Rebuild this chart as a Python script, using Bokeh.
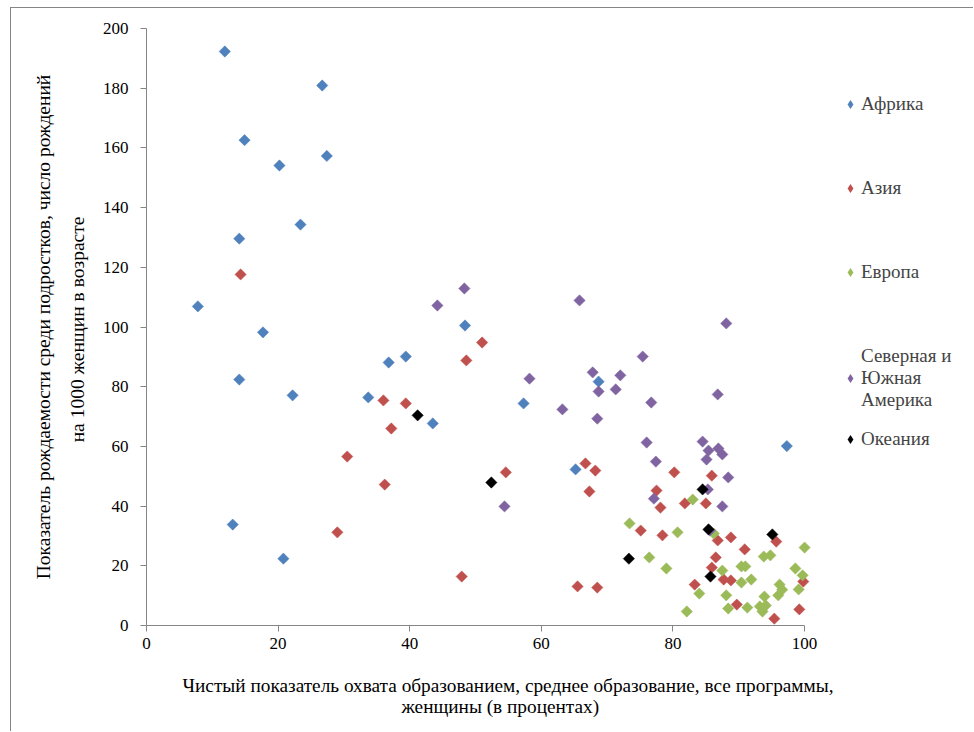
import math
from bokeh.plotting import figure
from bokeh.models import Range1d, FixedTicker, Legend, LegendItem, Title
from bokeh.embed import file_html
from bokeh.resources import INLINE

# ---- data ----
series_names = ["Африка", "Азия", "Европа", "Северная и\nЮжная\nАмерика", "Океания"]
series_colors = ["#4F81BD", "#C0504D", "#9BBB59", "#8064A2", "#000000"]

africa_x = [11.9, 26.7, 14.9, 27.4, 20.2, 23.4, 14.1, 7.8, 17.7, 14.1, 22.2, 33.7, 36.8, 39.4,
            43.5, 48.4, 13.1, 20.8, 57.3, 68.7, 65.2, 97.3]
africa_y = [192.3, 180.9, 162.6, 157.3, 154.1, 134.3, 129.6, 106.9, 98.2, 82.4, 77.1, 76.4, 88.1, 90.1,
            67.7, 100.5, 33.8, 22.4, 74.4, 81.7, 52.3, 60.1]

asia_x = [14.3, 51.0, 48.6, 36.0, 39.4, 37.2, 30.5, 36.2, 29.0, 47.9, 54.6, 66.7, 68.2, 67.3, 65.5,
          68.5, 80.2, 85.9, 77.5, 78.1, 81.8, 85.0, 75.1, 78.4, 86.8, 88.8, 95.7, 90.9, 86.5, 85.9,
          87.7, 88.8, 99.8, 83.3, 89.7, 95.4, 99.2]
asia_y = [117.6, 94.8, 88.8, 75.4, 74.4, 66.0, 56.6, 47.2, 31.2, 16.4, 51.3, 54.3, 51.9, 44.9, 13.1,
          12.7, 51.3, 50.2, 45.2, 39.5, 40.9, 40.9, 31.8, 30.2, 28.5, 29.5, 28.1, 25.5, 22.8, 19.4,
          15.4, 15.1, 14.7, 13.7, 7.0, 2.3, 5.4]

europe_x = [83.0, 73.4, 80.7, 86.2, 76.4, 79.0, 87.5, 90.4, 91.0, 93.8, 94.8, 100.0, 98.6, 99.7,
            90.4, 91.9, 96.2, 96.6, 99.1, 84.0, 88.1, 96.0, 93.9, 88.4, 91.3, 93.2, 93.6, 94.1, 82.1]
europe_y = [42.2, 34.2, 31.2, 30.8, 22.8, 19.1, 18.4, 19.8, 19.8, 23.1, 23.5, 26.1, 19.1, 16.8,
            14.4, 15.4, 13.7, 12.0, 12.1, 10.7, 10.1, 10.1, 9.7, 5.7, 6.0, 6.4, 4.7, 6.7, 4.7]

americas_x = [44.2, 48.3, 65.8, 58.2, 63.2, 67.8, 68.7, 68.5, 54.4, 88.1, 75.4, 72.0, 71.3, 86.8,
              76.7, 76.0, 84.5, 85.4, 86.9, 87.5, 85.1, 77.4, 88.4, 85.3, 77.1, 87.5, 85.6]
americas_y = [107.2, 112.9, 108.9, 82.7, 72.4, 84.8, 78.4, 69.3, 39.9, 101.2, 90.1, 83.8, 79.1, 77.4,
              74.7, 61.3, 61.6, 58.6, 59.3, 57.3, 55.6, 54.9, 49.6, 45.6, 42.5, 39.9, 31.8]

oceania_x = [41.2, 52.4, 84.5, 85.4, 95.1, 73.3, 85.7]
oceania_y = [70.4, 47.9, 45.6, 32.2, 30.5, 22.4, 16.4]

x_ticks = [0, 20, 40, 60, 80, 100]
y_ticks = [0, 20, 40, 60, 80, 100, 120, 140, 160, 180, 200]

x_title_lines = ["Чистый показатель охвата образованием, среднее образование, все программы,",
                 "женщины (в процентах)"]
y_title = "Показатель рождаемости среди подростков, число рождений\nна 1000  женщин в возрасте"

series_x = [africa_x, asia_x, europe_x, americas_x, oceania_x]
series_y = [africa_y, asia_y, europe_y, americas_y, oceania_y]

# ---- figure ----
FONT = "Liberation Serif"
AX = "#868686"

# frame spans to the right edge so the legend (drawn inside it) is not clipped;
# the x axis itself is bounded to 0..100
p = figure(width=963, height=724, x_range=Range1d(0, 124.3), y_range=Range1d(0, 200),
           output_backend="svg", toolbar_location=None,
           min_border_left=135, min_border_right=10, min_border_top=20, min_border_bottom=107)
p.margin = (7, 0, 0, 10)
p.styles = {"border-left": "1px solid #868686", "border-top": "1px solid #868686"}
p.outline_line_color = None
p.background_fill_color = "white"
p.border_fill_color = "white"
p.xgrid.grid_line_color = None
p.ygrid.grid_line_color = None

for ax, ticks in ((p.xaxis, x_ticks), (p.yaxis, y_ticks)):
    ax.ticker = FixedTicker(ticks=ticks)
    ax.axis_line_color = AX
    ax.major_tick_line_color = AX
    ax.minor_tick_line_color = None
    ax.major_tick_out = 6
    ax.major_tick_in = 0
    ax.major_label_text_font = FONT
    ax.major_label_text_font_size = "17px"
    ax.major_label_text_color = "black"
    ax.axis_label_text_font = FONT
    ax.axis_label_text_font_size = "19.5px"
    ax.axis_label_text_font_style = "normal"
    ax.axis_label_text_color = "black"

p.xaxis.bounds = (0, 100)
p.xaxis.major_label_standoff = 6
p.yaxis.axis_label = y_title
p.yaxis.major_label_standoff = 12
p.yaxis.axis_label_standoff = 12
p.yaxis.axis_label_text_line_height = 1.6

# x axis title (two centred lines, centred on the chart area as in the original)
t1 = Title(text=x_title_lines[0], align="left", offset=36, standoff=42, vertical_align="bottom",
           text_font=FONT, text_font_size="19.3px", text_font_style="normal", text_color="black")
t2 = Title(text=x_title_lines[1], align="left", offset=255, standoff=-42, vertical_align="top",
           text_font=FONT, text_font_size="19.3px", text_font_style="normal", text_color="black")
p.add_layout(t1, "below")
p.add_layout(t2, "below")

for xs, ys, c in zip(series_x, series_y, series_colors):
    p.scatter(xs, ys, marker="square", size=8, angle=math.pi / 4,
              fill_color=c, line_color=c, line_width=0.5)

# legend keys: same data, zero-size diamonds (invisible in the plot, diamond swatch in legend)
keys = [p.scatter(xs, ys, marker="diamond", size=0, fill_color=c, line_color=None)
        for xs, ys, c in zip(series_x, series_y, series_colors)]

def make_legend(items, loc, spacing):
    return Legend(items=items, location=loc, spacing=spacing, padding=0, margin=0,
                  glyph_width=22, glyph_height=22, label_height=20, label_standoff=0,
                  border_line_color=None, background_fill_alpha=0,
                  label_text_font=FONT, label_text_font_size="19px",
                  label_text_line_height=1.2)

items_a = [LegendItem(label=series_names[i], renderers=[keys[i]]) for i in range(4)]
items_b = [LegendItem(label=series_names[4], renderers=[keys[4]])]
p.add_layout(make_legend(items_a, (693, 214), 62))
p.add_layout(make_legend(items_b, (693, 175), 0))

open("out.html", "w").write(file_html(p, INLINE))
